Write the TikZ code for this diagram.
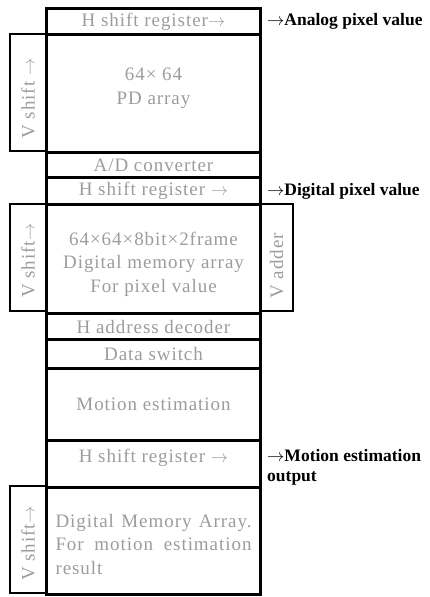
\documentclass[tikz,border=0pt]{standalone}
\usepackage{fontspec}
\setmainfont{Liberation Serif}
\newfontfamily\boxfontfam[LetterSpace=5]{Liberation Serif}
\newcommand{\boxfont}{\boxfontfam\fontsize{19}{23.5}\selectfont}
\newcommand{\lblfont}{\fontsize{17.5}{20}\selectfont\bfseries}
\newcommand{\rar}{\ensuremath{\rightarrow}}
\definecolor{txtgray}{HTML}{9C9C9C}
\begin{document}
\begin{tikzpicture}[x=1pt,y=-1pt,
  mbox/.style={draw, line width=3pt, inner sep=0pt, minimum width=214pt,
    anchor=north west},
  mtext/.style={text=txtgray, font=\boxfont, align=center, inner sep=0pt},
  sbox/.style={draw, line width=2.4pt, inner sep=0pt, anchor=north west},
  stext/.style={rotate=90, text=txtgray, font=\boxfont, inner sep=0pt},
  lbl/.style={anchor=west, font=\lblfont, inner sep=0pt, align=left}]
\useasboundingbox (0,0) rectangle (430,597);
% side boxes
\node[sbox, minimum width=36pt, minimum height=117pt] (vs1) at (9,33) {};
\node[sbox, minimum width=36pt, minimum height=107pt] (vs2) at (9,203) {};
\node[sbox, minimum width=33pt, minimum height=107pt] (vadd) at (259,203) {};
\node[sbox, minimum width=36pt, minimum height=107pt] (vs3) at (9,485) {};
\node[stext] (vs1t) at ([yshift=-6pt]vs1.center) {V shift \rar};
\node[stext] (vs2t) at ([yshift=-3pt]vs2.center) {V shift\rar};
\node[stext] (vaddt) at ([yshift=-8pt]vadd.center) {V adder};
\node[stext] (vs3t) at ([yshift=-4pt]vs3.center) {V shift\rar};
% main column boxes
\node[mbox, minimum height=26pt] (hsr1) at (45,7) {};
\node[mbox, minimum height=118pt] (pd) at (45,33) {};
\node[mbox, minimum height=25pt] (ad) at (45,151) {};
\node[mbox, minimum height=27pt] (hsr2) at (45,176) {};
\node[mbox, minimum height=109pt] (mem) at (45,203) {};
\node[mbox, minimum height=26pt] (had) at (45,312) {};
\node[mbox, minimum height=29pt] (ds) at (45,338) {};
\node[mbox, minimum height=72pt] (me) at (45,367) {};
\node[mbox, minimum height=47pt] (hsr3) at (45,439) {};
\node[mbox, minimum height=107pt] (mem2) at (45,486) {};
% main column texts
\node[mtext] (hsr1t) at (hsr1.center) {H shift register\rar};
\node[mtext] (pdt) at ([yshift=5pt]pd.center) {64× 64\\PD array};
\node[mtext] (adt) at (ad.center) {A/D converter};
\node[mtext] (hsr2t) at (hsr2.center) {H shift register \rar};
\node[mtext] (memt) at ([yshift=-5pt]mem.center) {64×64×8bit×2frame\\Digital memory array\\For pixel value};
\node[mtext] (hadt) at (had.center) {H address decoder};
\node[mtext] (dst) at (ds.center) {Data switch};
\node[mtext] (met) at (me.center) {Motion estimation};
\node[mtext] (hsr3t) at ([yshift=6pt]hsr3.center) {H shift register \rar};
\node[mtext, align=left] (mem2t) at ([yshift=-3pt]mem2.center)
  {\hbox to 196pt{Digital\hfill Memory\hfill Array.}\\
   \hbox to 196pt{For\hfill motion\hfill estimation}\\
   \hbox to 196pt{result\hfill}};
% right labels
\node[lbl] (l1) at (267,21) {\rar Analog pixel value};
\node[lbl] (l2) at (267,191) {\rar Digital pixel value};
\node[lbl] (l3) at (267,467) {\rar Motion estimation\\output};
\end{tikzpicture}
\end{document}
